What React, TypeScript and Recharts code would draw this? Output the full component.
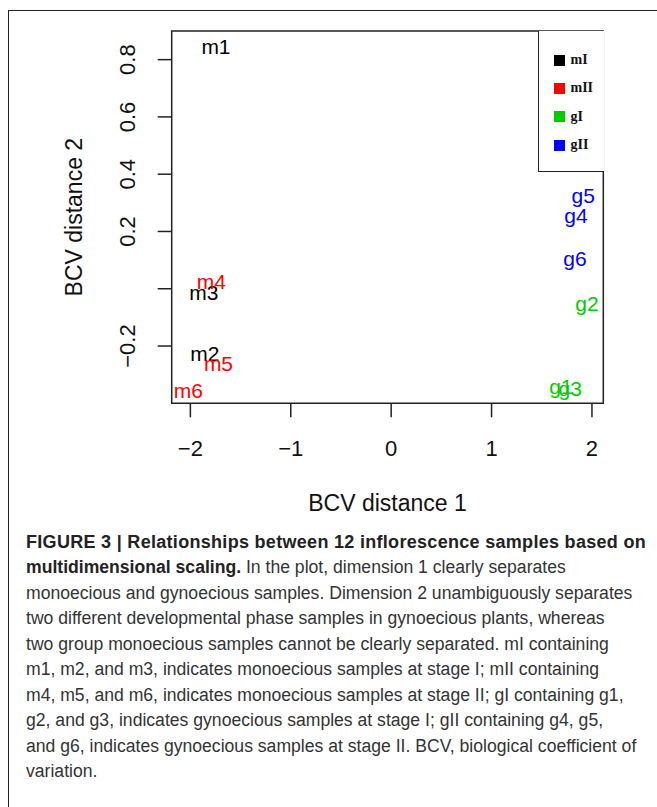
import React from "react";
import { ScatterChart, Scatter, XAxis, YAxis, ReferenceArea, Legend } from "recharts";

// groups shown in the legend
const groupNames = ["mI", "mII", "gI", "gII"];
const groupColors = ["#000000", "#ff0000", "#00cd00", "#0000ff"];

// sample labels and their MDS coordinates, per group
const mILabels = ["m1", "m2", "m3"];
const mIDim1 = [-1.745, -1.855, -1.865];
const mIDim2 = [0.845, -0.226, -0.014];

const mIILabels = ["m4", "m5", "m6"];
const mIIDim1 = [-1.79, -1.72, -2.02];
const mIIDim2 = [0.024, -0.26, -0.356];

const gILabels = ["g1", "g2", "g3"];
const gIDim1 = [1.69, 1.95, 1.783];
const gIDim2 = [-0.342, -0.051, -0.35];

const gIILabels = ["g4", "g5", "g6"];
const gIIDim1 = [1.84, 1.913, 1.83];
const gIIDim2 = [0.257, 0.327, 0.106];

const xTicks = [-2, -1, 0, 1, 2];
const yTicks = [-0.2, 0, 0.2, 0.4, 0.6, 0.8];
const xDomain = [-2.186, 2.113];
const yDomain = [-0.4, 0.9];

const captionLines = [
  "monoecious and gynoecious samples. Dimension 2 unambiguously separates",
  "two different developmental phase samples in gynoecious plants, whereas",
  "two group monoecious samples cannot be clearly separated. mI containing",
  "m1, m2, and m3, indicates monoecious samples at stage I; mII containing",
  "m4, m5, and m6, indicates monoecious samples at stage II; gI containing g1,",
  "g2, and g3, indicates gynoecious samples at stage I; gII containing g4, g5,",
  "and g6, indicates gynoecious samples at stage II. BCV, biological coefficient of",
  "variation.",
];

const build = (labels: string[], xs: number[], ys: number[]) =>
  labels.map((label, i) => ({ label, x: xs[i], y: ys[i] }));

const series = [
  build(mILabels, mIDim1, mIDim2),
  build(mIILabels, mIIDim1, mIIDim2),
  build(gILabels, gIDim1, gIDim2),
  build(gIILabels, gIIDim1, gIIDim2),
];

const SANS = "'Liberation Sans', Arial, Helvetica, sans-serif";
const fmt = (v: number, digits: number) => v.toFixed(digits).replace("-", "\u2212");

const labelShape = (color: string) => (props: any) => (
  <text
    x={props.cx}
    y={props.cy}
    fill={color}
    fontSize={21}
    fontFamily={SANS}
    textAnchor="middle"
    dominantBaseline="central"
  >
    {props.payload.label}
  </text>
);

const XTick = (props: any) => (
  <text
    x={props.x}
    y={props.y + 31}
    fontSize={22}
    fontFamily={SANS}
    fill="#111"
    textAnchor="middle"
    dominantBaseline="central"
  >
    {fmt(props.payload.value, 0)}
  </text>
);

const YTick = (props: any) => {
  const v = props.payload.value;
  if (Math.abs(v) < 1e-9) return <g />;
  const x = props.x - 30;
  return (
    <text
      x={x}
      y={props.y}
      transform={`rotate(-90 ${x} ${props.y})`}
      fontSize={22}
      fontFamily={SANS}
      fill="#111"
      textAnchor="middle"
      dominantBaseline="central"
    >
      {fmt(v, 1)}
    </text>
  );
};

const LegendBox = (props: any) => {
  const items = [...(props.payload || [])].sort(
    (a: any, b: any) => groupNames.indexOf(a.value) - groupNames.indexOf(b.value)
  );
  return (
    <div
      style={{
        width: 66,
        height: 141,
        boxSizing: "border-box",
        border: "1.5px solid #222",
        borderRight: "none",
        borderTop: "none",
        background: "#fff",
        paddingTop: 15,
        paddingLeft: 15,
      }}
    >
      {items.map((item: any) => (
        <div key={item.value} style={{ display: "flex", alignItems: "center", height: 28.3 }}>
          <span style={{ width: 11, height: 11, background: item.color, marginRight: 6 }} />
          <span
            style={{
              fontFamily: "'Liberation Serif', 'Times New Roman', serif",
              fontWeight: "bold",
              fontSize: 14,
              color: "#111",
            }}
          >
            {item.value}
          </span>
        </div>
      ))}
    </div>
  );
};

export default function App() {
  return (
    <div style={{ position: "relative", width: 657, height: 807, background: "#fff", overflow: "hidden" }}>
      <style>{`body{margin:0}`}</style>
      <div
        style={{
          position: "absolute",
          left: 8,
          top: 10,
          width: 700,
          height: 820,
          borderLeft: "1.5px solid #222",
          borderTop: "1.5px solid #222",
        }}
      />
      <div style={{ position: "absolute", left: 0, top: 0 }}>
        <ScatterChart width={657} height={540} margin={{ top: 31, right: 53.7, bottom: 0, left: 0 }}>
          <XAxis
            type="number"
            dataKey="x"
            domain={xDomain}
            allowDataOverflow
            ticks={xTicks}
            height={136.7}
            axisLine={false}
            tickSize={14}
            tickMargin={0}
            tickLine={{ stroke: "#222", strokeWidth: 1.5 }}
            tick={<XTick />}
            label={({ viewBox }: any) => (
              <text
                x={viewBox.x + viewBox.width / 2}
                y={viewBox.y + 100}
                fontSize={23}
                fontFamily={SANS}
                fill="#111"
                textAnchor="middle"
                dominantBaseline="central"
              >
                BCV distance 1
              </text>
            )}
          />
          <YAxis
            type="number"
            dataKey="y"
            domain={yDomain}
            allowDataOverflow
            ticks={yTicks}
            width={171.7}
            axisLine={false}
            tickSize={14}
            tickMargin={0}
            tickLine={{ stroke: "#222", strokeWidth: 1.5 }}
            tick={<YTick />}
            label={({ viewBox }: any) => {
              const cx = 74.5;
              const cy = viewBox.y + viewBox.height / 2;
              return (
                <text
                  x={cx}
                  y={cy}
                  transform={`rotate(-90 ${cx} ${cy})`}
                  fontSize={23}
                  fontFamily={SANS}
                  fill="#111"
                  textAnchor="middle"
                  dominantBaseline="central"
                >
                  BCV distance 2
                </text>
              );
            }}
          />
          <ReferenceArea
            x1={xDomain[0]}
            x2={xDomain[1]}
            y1={yDomain[0]}
            y2={yDomain[1]}
            stroke="#222"
            strokeWidth={1.5}
            fill="none"
            fillOpacity={0}
            ifOverflow="visible"
          />
          {series.map((data, i) => (
            <Scatter
              key={groupNames[i]}
              name={groupNames[i]}
              data={data}
              fill={groupColors[i]}
              shape={labelShape(groupColors[i])}
              isAnimationActive={false}
            />
          ))}
          <Legend
            layout="vertical"
            align="center"
            verticalAlign="middle"
            content={<LegendBox />}
            wrapperStyle={{ position: "absolute", left: 537.5, top: 31, width: 66, height: 141 }}
          />
        </ScatterChart>
      </div>
      <div
        style={{
          position: "absolute",
          left: 26,
          top: 529.5,
          fontFamily: SANS,
          fontSize: 17.6,
          lineHeight: "25.5px",
          color: "#333",
          whiteSpace: "nowrap",
        }}
      >
        <div style={{ fontWeight: "bold", color: "#222", fontSize: 18, letterSpacing: 0.3 }}>
          FIGURE 3 | Relationships between 12 inflorescence samples based on
        </div>
        <div>
          <span style={{ fontWeight: "bold", color: "#222" }}>multidimensional scaling.</span> In the plot,
          dimension 1 clearly separates
        </div>
        {captionLines.map((line) => (
          <div key={line}>{line}</div>
        ))}
      </div>
    </div>
  );
}
